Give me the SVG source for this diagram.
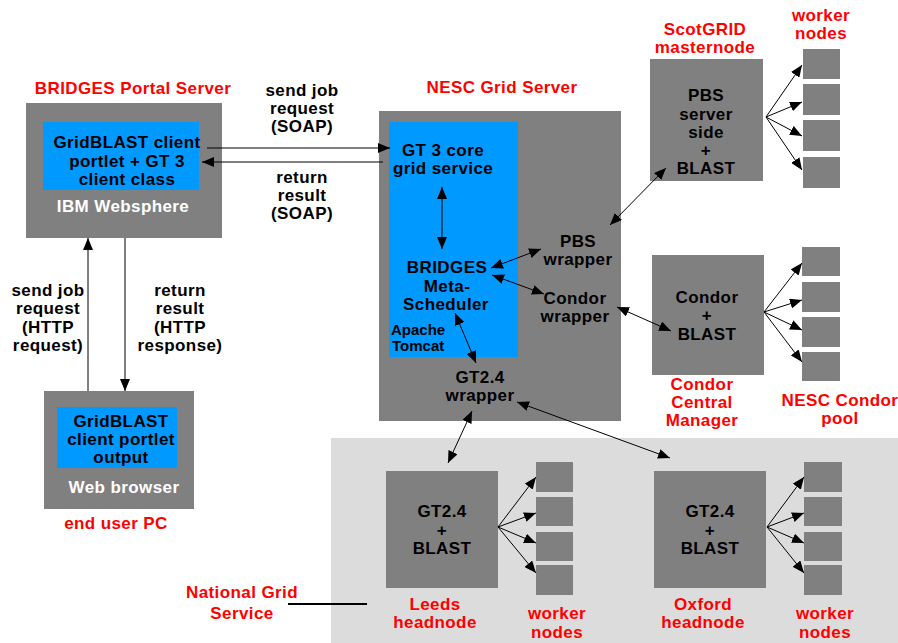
<svg xmlns="http://www.w3.org/2000/svg" width="898" height="643" viewBox="0 0 898 643">
<style>
text{font-family:"Liberation Sans",Arial,sans-serif;font-weight:bold;font-size:17px;letter-spacing:0.4px;text-anchor:middle;fill:#000}
.r{fill:#ff0000}
.w{fill:#ffffff}
.sm{font-size:15px;letter-spacing:0;text-anchor:start}
.g{fill:#808080}
.b{fill:#0099ff}
.c{stroke:#000;stroke-width:1;fill:none;marker-end:url(#ah)}
.d{stroke:#000;stroke-width:1;fill:none;marker-start:url(#ah);marker-end:url(#ah)}
</style>
<defs>
<marker id="ah" viewBox="0 0 12 10" refX="12" refY="5" markerWidth="12" markerHeight="10" markerUnits="userSpaceOnUse" orient="auto-start-reverse">
<path d="M0,0 L12,5 L0,10 z" fill="#000"/>
</marker>
</defs>
<rect width="898" height="643" fill="#fff"/>

<g id="national-grid-service">
<rect x="331" y="438" width="567" height="205" fill="#dcdcdc"/>
<text class="r" x="242" y="598">National Grid</text>
<text class="r" x="242" y="619">Service</text>
<line x1="288" y1="604" x2="367" y2="604" stroke="#000" stroke-width="2"/>
</g>

<g id="bridges-portal">
<text class="r" x="133" y="94">BRIDGES Portal Server</text>
<rect class="g" x="26" y="103" width="196" height="135"/>
<rect class="b" x="43" y="122" width="156" height="68"/>
<text x="127" y="148">GridBLAST client</text>
<text x="127" y="167">portlet + GT 3</text>
<text x="127" y="185">client class</text>
<text class="w" x="123" y="212">IBM Websphere</text>
</g>

<g id="web-browser">
<rect class="g" x="44" y="391" width="150" height="118"/>
<rect class="b" x="57" y="407" width="120" height="61"/>
<text x="121" y="427">GridBLAST</text>
<text x="121" y="445">client portlet</text>
<text x="121" y="463">output</text>
<text class="w" x="124" y="493">Web browser</text>
<text class="r" x="116" y="529">end user PC</text>
</g>

<g id="nesc-grid-server">
<text class="r" x="502" y="93">NESC Grid Server</text>
<rect class="g" x="379" y="111" width="242" height="310"/>
<rect class="b" x="389" y="122" width="129" height="235"/>
<text x="443" y="156">GT 3 core</text>
<text x="443" y="174">grid service</text>
<text x="447" y="273">BRIDGES</text>
<text x="447" y="292">Meta-</text>
<text x="446" y="310">Scheduler</text>
<text class="sm" x="391" y="335">Apache</text>
<text class="sm" x="392" y="351">Tomcat</text>
<text x="578" y="247">PBS</text>
<text x="578" y="265">wrapper</text>
<text x="575" y="304">Condor</text>
<text x="575" y="322">wrapper</text>
<text x="480" y="383">GT2.4</text>
<text x="480" y="401">wrapper</text>
</g>

<g id="scotgrid">
<text class="r" x="705" y="35">ScotGRID</text>
<text class="r" x="705" y="53">masternode</text>
<rect class="g" x="650" y="59" width="113" height="122"/>
<text x="706" y="101">PBS</text>
<text x="706" y="120">server</text>
<text x="706" y="138">side</text>
<text x="706" y="156">+</text>
<text x="706" y="174">BLAST</text>
</g>

<g id="scotgrid-workers">
<text class="r" x="821" y="21">worker</text>
<text class="r" x="821" y="39">nodes</text>
<rect class="g" x="803" y="49" width="37" height="30"/>
<rect class="g" x="803" y="84" width="37" height="31"/>
<rect class="g" x="803" y="120" width="37" height="31"/>
<rect class="g" x="803" y="157" width="37" height="31"/>
</g>

<g id="condor-manager">
<rect class="g" x="652" y="255" width="112" height="120"/>
<text x="707" y="303">Condor</text>
<text x="707" y="321">+</text>
<text x="707" y="340">BLAST</text>
<text class="r" x="702" y="390">Condor</text>
<text class="r" x="702" y="408">Central</text>
<text class="r" x="702" y="426">Manager</text>
</g>

<g id="condor-pool">
<rect class="g" x="802" y="247" width="38" height="29"/>
<rect class="g" x="802" y="282" width="38" height="30"/>
<rect class="g" x="802" y="317" width="38" height="30"/>
<rect class="g" x="802" y="352" width="38" height="29"/>
<text class="r" x="840" y="406">NESC Condor</text>
<text class="r" x="840" y="424">pool</text>
</g>

<g id="leeds">
<rect class="g" x="386" y="471" width="112" height="117"/>
<text x="442" y="517">GT2.4</text>
<text x="442" y="536">+</text>
<text x="442" y="554">BLAST</text>
<text class="r" x="435" y="610">Leeds</text>
<text class="r" x="435" y="628">headnode</text>
</g>

<g id="leeds-workers">
<rect class="g" x="536" y="462" width="37" height="30"/>
<rect class="g" x="536" y="497" width="37" height="29"/>
<rect class="g" x="536" y="532" width="37" height="29"/>
<rect class="g" x="536" y="565" width="37" height="30"/>
<text class="r" x="557" y="619">worker</text>
<text class="r" x="557" y="638">nodes</text>
</g>

<g id="oxford">
<rect class="g" x="654" y="471" width="112" height="117"/>
<text x="710" y="517">GT2.4</text>
<text x="710" y="536">+</text>
<text x="710" y="554">BLAST</text>
<text class="r" x="703" y="610">Oxford</text>
<text class="r" x="703" y="628">headnode</text>
</g>

<g id="oxford-workers">
<rect class="g" x="804" y="462" width="38" height="30"/>
<rect class="g" x="804" y="497" width="38" height="29"/>
<rect class="g" x="804" y="532" width="38" height="29"/>
<rect class="g" x="804" y="565" width="38" height="30"/>
<text class="r" x="825" y="619">worker</text>
<text class="r" x="825" y="638">nodes</text>
</g>

<g id="connector-labels">
<text x="302" y="96">send job</text>
<text x="302" y="114">request</text>
<text x="302" y="132">(SOAP)</text>
<text x="302" y="183">return</text>
<text x="302" y="201">result</text>
<text x="302" y="219">(SOAP)</text>
<text x="48" y="296">send job</text>
<text x="48" y="314">request</text>
<text x="48" y="333">(HTTP</text>
<text x="48" y="351">request)</text>
<text x="180" y="296">return</text>
<text x="180" y="314">result</text>
<text x="180" y="333">(HTTP</text>
<text x="180" y="351">response)</text>
</g>

<g id="connectors">
<line class="c" x1="207" y1="148" x2="390" y2="148"/>
<line class="c" x1="383" y1="162" x2="202" y2="162"/>
<line class="c" x1="88" y1="391" x2="88" y2="238"/>
<line class="c" x1="125" y1="238" x2="125" y2="391"/>
<line class="d" x1="442" y1="187" x2="442" y2="249"/>
<line class="d" x1="491" y1="268" x2="541" y2="249"/>
<line class="d" x1="492" y1="275" x2="544" y2="294"/>
<line class="d" x1="455" y1="313" x2="476" y2="363"/>
<line class="d" x1="610" y1="225" x2="666" y2="168"/>
<line class="d" x1="617" y1="307" x2="671" y2="331"/>
<line class="d" x1="472" y1="411" x2="448" y2="463"/>
<line class="d" x1="517" y1="402" x2="670" y2="458"/>
<line class="c" x1="766" y1="117" x2="802" y2="65"/>
<line class="c" x1="766" y1="117" x2="802" y2="102"/>
<line class="c" x1="766" y1="117" x2="802" y2="136"/>
<line class="c" x1="766" y1="117" x2="802" y2="170"/>
<line class="c" x1="764" y1="312" x2="802" y2="263"/>
<line class="c" x1="764" y1="312" x2="802" y2="300"/>
<line class="c" x1="764" y1="312" x2="802" y2="330"/>
<line class="c" x1="764" y1="312" x2="802" y2="362"/>
<line class="c" x1="498" y1="527" x2="536" y2="477"/>
<line class="c" x1="498" y1="527" x2="536" y2="513"/>
<line class="c" x1="498" y1="527" x2="536" y2="543"/>
<line class="c" x1="498" y1="527" x2="536" y2="573"/>
<line class="c" x1="767" y1="527" x2="804" y2="477"/>
<line class="c" x1="767" y1="527" x2="804" y2="513"/>
<line class="c" x1="767" y1="527" x2="804" y2="543"/>
<line class="c" x1="767" y1="527" x2="804" y2="573"/>
</g>
</svg>
